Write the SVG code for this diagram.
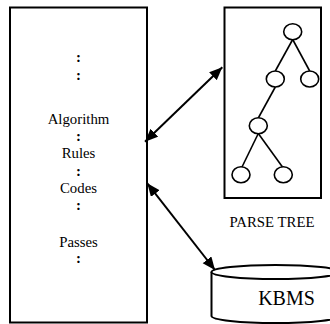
<svg xmlns="http://www.w3.org/2000/svg" width="330" height="324" viewBox="0 0 330 324">
<style>
.box{fill:#fff;stroke:#000;stroke-width:2}
.t{font-family:"Liberation Serif","Times New Roman",serif;font-size:14.8px;fill:#000;text-anchor:middle}
.c{font-family:"Liberation Serif","Times New Roman",serif;font-size:14.8px;font-weight:bold;fill:#000;text-anchor:middle}
.n{fill:#fff;stroke:#000;stroke-width:1.6}
.e{stroke:#000;stroke-width:1.6;fill:none}
.a{stroke:#000;stroke-width:2;fill:none;marker-start:url(#ah);marker-end:url(#ah)}
</style>
<defs>
<marker id="ah" markerUnits="userSpaceOnUse" markerWidth="15" markerHeight="12" refX="13" refY="5.5" orient="auto-start-reverse">
<path d="M0,0 L13,5.5 L0,11 z" fill="#000"/>
</marker>
</defs>
<g id="program">
<rect class="box" x="10" y="7.5" width="137" height="315"/>
<text class="c" x="78.5" y="62">:</text>
<text class="c" x="78.5" y="80">:</text>
<text class="t" x="78.5" y="124">Algorithm</text>
<text class="c" x="78.5" y="141">:</text>
<text class="t" x="78.5" y="158">Rules</text>
<text class="c" x="78.5" y="176">:</text>
<text class="t" x="78.5" y="192.5">Codes</text>
<text class="c" x="78.5" y="210">:</text>
<text class="t" x="78.5" y="247">Passes</text>
<text class="c" x="78.5" y="263">:</text>
</g>
<g id="parse-tree">
<rect class="box" x="224.5" y="7.5" width="96.5" height="190.5"/>
<line class="e" x1="292.7" y1="39.5" x2="275.3" y2="71"/>
<line class="e" x1="292.7" y1="39.5" x2="309.7" y2="71"/>
<line class="e" x1="275.3" y1="87" x2="258.3" y2="118"/>
<line class="e" x1="258.3" y1="133.5" x2="242" y2="167"/>
<line class="e" x1="258.3" y1="133.5" x2="282.5" y2="167"/>
<ellipse class="n" cx="292.7" cy="31.7" rx="9" ry="8"/>
<ellipse class="n" cx="275.3" cy="79" rx="9" ry="8"/>
<ellipse class="n" cx="309.7" cy="79" rx="9" ry="8"/>
<ellipse class="n" cx="258.3" cy="125.7" rx="9" ry="8"/>
<ellipse class="n" cx="241" cy="174.7" rx="9" ry="8"/>
<ellipse class="n" cx="283.3" cy="174.7" rx="9" ry="8"/>
<text class="t" x="272" y="227">PARSE TREE</text>
</g>
<g id="kbms">
<path class="box" d="M211.5,272 L211.5,316 A64,7 0 0 0 339.5,316 L339.5,272"/>
<ellipse class="box" cx="275.5" cy="272" rx="64" ry="7"/>
<text x="286.5" y="305" style="font-family:'Liberation Serif','Times New Roman',serif;font-size:20px;text-anchor:middle">KBMS</text>
</g>
<g id="connectors">
<line class="a" x1="145" y1="141.7" x2="222.3" y2="67.3"/>
<line class="a" x1="147.3" y1="183.3" x2="215" y2="270"/>
</g>
</svg>
